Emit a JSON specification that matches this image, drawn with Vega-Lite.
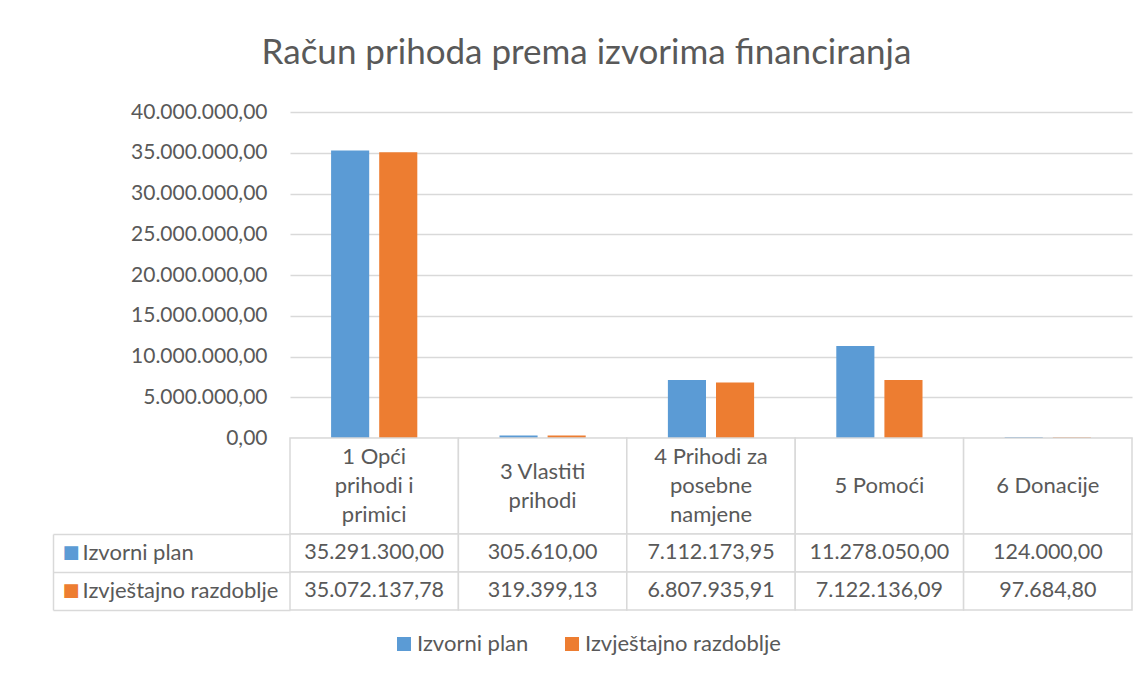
{
  "$schema": "https://vega.github.io/schema/vega-lite/v6.json",
  "config": {
    "locale": {"number": {"decimal": ",", "thousands": ".", "grouping": [3], "currency": ["", ""]}},
    "font": "Lato",
    "view": {"stroke": null},
    "text": {"color": "#595959"}
  },
  "padding": {"left": 52, "top": 36, "right": 17, "bottom": 10},
  "bounds": "flush",
  "spacing": 0,
  "title": {"text": "Račun prihoda prema izvorima financiranja", "fontSize": 35, "fontWeight": 400, "color": "#595959", "anchor": "middle", "offset": 30, "font": "Lato", "dx": -6},
  "datasets": {
    "bars": [
      {"izvor": "1 Opći prihodi i primici", "serija": "Izvorni plan", "iznos": 35291300.00},
      {"izvor": "1 Opći prihodi i primici", "serija": "Izvještajno razdoblje", "iznos": 35072137.78},
      {"izvor": "3 Vlastiti prihodi", "serija": "Izvorni plan", "iznos": 305610.00},
      {"izvor": "3 Vlastiti prihodi", "serija": "Izvještajno razdoblje", "iznos": 319399.13},
      {"izvor": "4 Prihodi za posebne namjene", "serija": "Izvorni plan", "iznos": 7112173.95},
      {"izvor": "4 Prihodi za posebne namjene", "serija": "Izvještajno razdoblje", "iznos": 6807935.91},
      {"izvor": "5 Pomoći", "serija": "Izvorni plan", "iznos": 11278050.00},
      {"izvor": "5 Pomoći", "serija": "Izvještajno razdoblje", "iznos": 7122136.09},
      {"izvor": "6 Donacije", "serija": "Izvorni plan", "iznos": 124000.00},
      {"izvor": "6 Donacije", "serija": "Izvještajno razdoblje", "iznos": 97684.80}
    ],
    "cats": [
      {"izvor": "1 Opći prihodi i primici", "naziv": "1 Opći\nprihodi i\nprimici", "redova": 3},
      {"izvor": "3 Vlastiti prihodi", "naziv": "3 Vlastiti\nprihodi", "redova": 2},
      {"izvor": "4 Prihodi za posebne namjene", "naziv": "4 Prihodi za\nposebne\nnamjene", "redova": 3},
      {"izvor": "5 Pomoći", "naziv": "5 Pomoći", "redova": 1},
      {"izvor": "6 Donacije", "naziv": "6 Donacije", "redova": 1}
    ]
  },
  "vconcat": [
    {
      "width": 842,
      "height": 326,
      "data": {"name": "bars"},
      "mark": {"type": "bar"},
      "encoding": {
        "x": {"field": "izvor", "type": "nominal", "sort": null, "scale": {"paddingInner": 0, "paddingOuter": 0}, "axis": null},
        "xOffset": {"field": "serija", "type": "nominal", "sort": ["Izvorni plan", "Izvještajno razdoblje"], "scale": {"paddingInner": 0.208, "paddingOuter": 0.854}},
        "y": {"field": "iznos", "type": "quantitative", "scale": {"domain": [0, 40000000]},
          "axis": {"values": [0, 5000000, 10000000, 15000000, 20000000, 25000000, 30000000, 35000000, 40000000], "format": ",.2f", "grid": true, "gridColor": "#d9d9d9", "gridWidth": 1.5, "domain": false, "ticks": false, "tickSize": 0, "labelPadding": 23, "labelFontSize": 21, "labelColor": "#595959", "title": null}},
        "color": {"field": "serija", "type": "nominal", "sort": ["Izvorni plan", "Izvještajno razdoblje"], "scale": {"range": ["#5b9bd5", "#ed7d31"]},
          "legend": {"title": null, "orient": "none", "direction": "horizontal", "legendX": 103, "legendY": 521, "symbolType": "square", "symbolSize": 196, "symbolStrokeWidth": 0, "labelFontSize": 22, "labelColor": "#595959", "columnPadding": 32, "labelOffset": 2, "labelLimit": 400}}
      }
    },
    {
      "width": 842,
      "height": 96,
      "data": {"name": "cats"},
      "layer": [
        {
          "mark": {"type": "rect", "fill": "white", "stroke": "#d9d9d9", "strokeWidth": 1.5},
          "encoding": {"x": {"field": "izvor", "type": "nominal", "sort": null, "scale": {"paddingInner": 0, "paddingOuter": 0}, "axis": null}}
        },
        {
          "transform": [{"filter": "datum.redova == 3"}],
          "mark": {"type": "text", "fontSize": 22, "lineBreak": "\n", "lineHeight": 29, "baseline": "middle", "dy": -29, "color": "#595959"},
          "encoding": {"x": {"field": "izvor", "type": "nominal", "sort": null, "axis": null}, "text": {"field": "naziv"}}
        },
        {
          "transform": [{"filter": "datum.redova == 2"}],
          "mark": {"type": "text", "fontSize": 22, "lineBreak": "\n", "lineHeight": 29, "baseline": "middle", "dy": -14.5, "color": "#595959"},
          "encoding": {"x": {"field": "izvor", "type": "nominal", "sort": null, "axis": null}, "text": {"field": "naziv"}}
        },
        {
          "transform": [{"filter": "datum.redova == 1"}],
          "mark": {"type": "text", "fontSize": 22, "baseline": "middle", "color": "#595959"},
          "encoding": {"x": {"field": "izvor", "type": "nominal", "sort": null, "axis": null}, "text": {"field": "naziv"}}
        }
      ]
    },
    {
      "width": 842,
      "height": 76,
      "data": {"name": "bars"},
      "layer": [
        {
          "mark": {"type": "rect", "fill": "white", "stroke": "#d9d9d9", "strokeWidth": 1.5},
          "encoding": {
            "x": {"field": "izvor", "type": "nominal", "sort": null, "scale": {"paddingInner": 0, "paddingOuter": 0}, "axis": null},
            "y": {"field": "serija", "type": "nominal", "sort": ["Izvorni plan", "Izvještajno razdoblje"], "scale": {"paddingInner": 0, "paddingOuter": 0},
              "axis": {"orient": "left", "labels": false, "domain": false, "ticks": true, "tickBand": "extent", "tickSize": 237, "tickColor": "#d9d9d9", "tickWidth": 1.5, "title": null}}
          }
        },
        {
          "mark": {"type": "text", "fontSize": 21.5, "baseline": "middle", "color": "#595959"},
          "encoding": {
            "x": {"field": "izvor", "type": "nominal", "sort": null, "axis": null},
            "y": {"field": "serija", "type": "nominal", "sort": ["Izvorni plan", "Izvještajno razdoblje"],
              "axis": {"orient": "left", "labelAlign": "left", "labelPadding": 208, "ticks": false, "tickSize": 0, "domain": false, "labelFontSize": 22, "labelLimit": 300, "labelColor": "#595959", "title": null}},
            "text": {"field": "iznos", "type": "quantitative", "format": ",.2f"}
          }
        },
        {
          "mark": {"type": "text", "text": ""},
          "encoding": {
            "y": {"field": "serija", "type": "nominal", "sort": ["Izvorni plan", "Izvještajno razdoblje"],
              "axis": {"orient": "left", "offset": 237, "domain": true, "domainColor": "#d9d9d9", "domainWidth": 1.5, "ticks": false, "tickSize": 0, "labelExpr": "'■'", "labelAlign": "left", "labelPadding": -9, "labelFont": "DejaVu Sans", "labelFontSize": 18,
                "labelColor": {"condition": {"test": "datum.value == 'Izvorni plan'", "value": "#5b9bd5"}, "value": "#ed7d31"}, "title": null}}
          }
        }
      ],
      "resolve": {"axis": {"y": "independent"}}
    }
  ]
}
